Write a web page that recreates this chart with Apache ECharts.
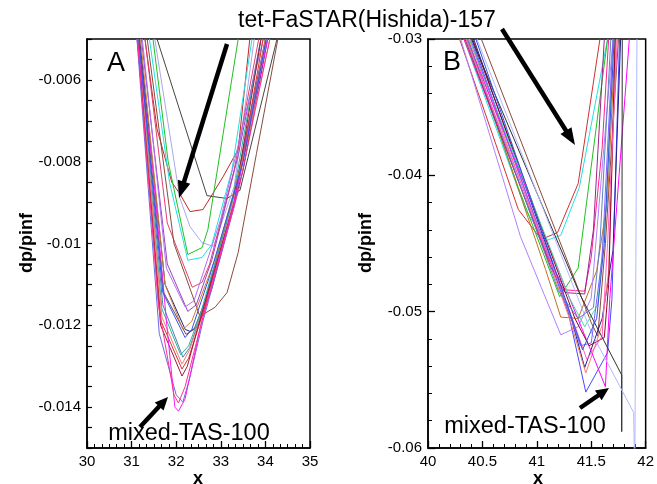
<!DOCTYPE html>
<html><head><meta charset="utf-8">
<script src="https://cdn.jsdelivr.net/npm/echarts@6/dist/echarts.min.js"></script>
<style>html,body{margin:0;padding:0;background:#fff}#c{width:657px;height:484px}</style>
</head><body><div id="c"></div>
<script>
// ---------------- data: panel A ----------------
const yMajorA = [-0.014, -0.012, -0.01, -0.008, -0.006];
const aFaSTAR   = [[31.30,-0.005],[31.57,-0.0072],[31.90,-0.0085],[32.09,-0.0088],[32.31,-0.00922],[32.60,-0.00917],[33.05,-0.00837],[33.39,-0.0077],[33.65,-0.005]];
const aBlack    = [[31.57,-0.005],[32.69,-0.00883],[33.14,-0.0089],[33.43,-0.0087],[34.26,-0.005]];
const aLavender = [[31.52,-0.005],[32.08,-0.00888],[32.31,-0.00959],[32.58,-0.00998],[32.84,-0.01007],[33.3,-0.0086],[33.75,-0.005]];
const aGreen    = [[31.48,-0.005],[31.82,-0.008],[32.26,-0.01027],[32.58,-0.0101],[32.71,-0.00966],[33.39,-0.005]];
const aCyan     = [[31.40,-0.005],[31.85,-0.0085],[32.26,-0.01041],[32.58,-0.01034],[32.80,-0.01002],[33.25,-0.0082],[33.70,-0.005]];
const aPinkRed  = [[31.30,-0.005],[31.80,-0.0095],[32.36,-0.01107],[32.58,-0.01095],[32.75,-0.0105],[33.3,-0.0082],[33.85,-0.005]];
const aBrown    = [[31.35,-0.005],[31.95,-0.0100],[32.53,-0.01178],[32.87,-0.01156],[33.14,-0.0112],[33.39,-0.01022],[33.8,-0.0078],[34.28,-0.005]];
const aPurple   = [[31.22,-0.005],[31.80,-0.0105],[32.26,-0.01166],[32.45,-0.0115],[32.8,-0.0104],[33.4,-0.0078],[33.90,-0.005]];
const aViolet   = [[31.24,-0.005],[31.78,-0.0106],[32.20,-0.01155],[32.40,-0.0114],[33.0,-0.0094],[33.95,-0.005]];
const aNavy     = [[31.18,-0.005],[31.75,-0.0110],[32.20,-0.0121],[32.31,-0.01215],[32.49,-0.01202],[32.8,-0.0111],[33.5,-0.0082],[34.05,-0.005]];
const aDusky    = [[31.17,-0.005],[31.72,-0.0112],[32.22,-0.01222],[32.40,-0.0121],[32.65,-0.0114],[33.3,-0.0088],[34.00,-0.005]];
const aSteel    = [[31.15,-0.005],[31.70,-0.0115],[32.15,-0.01278],[32.30,-0.01255],[32.6,-0.0116],[33.3,-0.0088],[34.02,-0.005]];
const aTeal     = [[31.14,-0.005],[31.68,-0.0116],[32.10,-0.01272],[32.28,-0.0125],[32.55,-0.0117],[33.25,-0.0090],[33.90,-0.005]];
const aSalmon   = [[31.14,-0.005],[31.68,-0.0118],[32.13,-0.01295],[32.30,-0.0126],[32.7,-0.0113],[33.4,-0.0085],[34.10,-0.005]];
const aRed      = [[31.13,-0.005],[31.66,-0.0119],[32.13,-0.01307],[32.28,-0.0128],[32.6,-0.0117],[33.35,-0.0088],[33.95,-0.005]];
const aDarkRed  = [[31.13,-0.005],[31.65,-0.0120],[32.13,-0.01324],[32.25,-0.0130],[32.55,-0.0118],[33.3,-0.0090],[33.90,-0.005]];
const aPeri     = [[31.12,-0.005],[31.62,-0.0122],[32.00,-0.0137],[32.15,-0.01388],[32.30,-0.0133],[32.6,-0.0119],[33.3,-0.0091],[34.00,-0.005]];
const aMagenta  = [[31.12,-0.005],[31.46,-0.008],[31.79,-0.012],[31.97,-0.0140],[32.05,-0.0141],[32.20,-0.0138],[32.55,-0.0120],[33.3,-0.0090],[34.05,-0.005]];
const aHotPink  = [[31.13,-0.005],[31.60,-0.0115],[31.95,-0.0137],[32.05,-0.0139],[32.20,-0.0135],[32.6,-0.0118],[33.4,-0.0087],[34.10,-0.005]];
const aOrange   = [[31.20,-0.005],[31.75,-0.0110],[32.15,-0.0121],[32.35,-0.0119],[32.9,-0.0103],[33.6,-0.0075],[34.00,-0.005]];
const aBlue     = [[31.16,-0.005],[31.70,-0.0112],[32.20,-0.0123],[32.35,-0.0121],[32.75,-0.0108],[33.5,-0.0080],[34.02,-0.005]];

// ---------------- data: panel B ----------------
const bFaSTAR   = [[40.29,-0.03],[40.83,-0.0425],[41.04,-0.0447],[41.19,-0.0442],[41.38,-0.0406],[41.58,-0.03]];
const bCyan     = [[40.33,-0.03],[40.90,-0.0426],[41.08,-0.0448],[41.22,-0.0444],[41.39,-0.0409],[41.65,-0.03]];
const bBrownLn  = [[40.49,-0.03],[41.50,-0.0508],[41.56,-0.0518],[41.63,-0.045],[41.75,-0.03]];
const bGreen    = [[40.35,-0.03],[40.83,-0.0409],[41.21,-0.0489],[41.38,-0.0468],[41.65,-0.03]];
const bOrange   = [[40.37,-0.03],[40.80,-0.0403],[41.08,-0.0469],[41.22,-0.0504],[41.38,-0.0505],[41.55,-0.047],[41.65,-0.0418],[41.72,-0.03]];
const bLilac    = [[40.30,-0.03],[40.85,-0.0445],[41.04,-0.0482],[41.22,-0.0517],[41.38,-0.0511],[41.50,-0.049],[41.70,-0.03]];
const bBlue     = [[40.40,-0.03],[41.29,-0.0501],[41.45,-0.0559],[41.65,-0.0530],[41.69,-0.0491],[41.76,-0.03]];
const bNavy     = [[40.42,-0.03],[41.30,-0.0500],[41.44,-0.0541],[41.60,-0.0505],[41.70,-0.0455],[41.77,-0.03]];
const bSalmon   = [[40.38,-0.03],[41.30,-0.0505],[41.45,-0.0545],[41.60,-0.0510],[41.66,-0.0470],[41.73,-0.03]];
const bMagenta  = [[40.36,-0.03],[41.30,-0.0490],[41.54,-0.0537],[41.63,-0.0555],[41.67,-0.0491],[41.85,-0.03]];
const bHotPink  = [[40.33,-0.03],[41.10,-0.0460],[41.26,-0.0484],[41.44,-0.0485],[41.50,-0.0460],[41.60,-0.0380],[41.66,-0.03]];
const bPurple   = [[40.34,-0.03],[41.12,-0.0466],[41.26,-0.0486],[41.44,-0.0487],[41.52,-0.0440],[41.62,-0.03]];
const bDarkRed  = [[40.41,-0.03],[41.35,-0.0505],[41.48,-0.0525],[41.62,-0.0519],[41.66,-0.0480],[41.72,-0.03]];
const bAqua     = [[40.38,-0.03],[41.30,-0.0490],[41.44,-0.0511],[41.56,-0.0495],[41.64,-0.0420],[41.70,-0.03]];
const bBlack    = [[40.40,-0.03],[41.40,-0.0488],[41.78,-0.05465],[41.78,-0.0588],[41.785,-0.03]];
const bPaleBlue = [[40.45,-0.03],[41.50,-0.0515],[41.89,-0.0574],[41.90,-0.0625],[41.92,-0.03]];
const bViolet   = [[40.39,-0.03],[41.25,-0.0490],[41.40,-0.0525],[41.50,-0.0523],[41.60,-0.0460],[41.70,-0.03]];
const bSlate    = [[40.36,-0.03],[41.20,-0.0485],[41.38,-0.0505],[41.52,-0.0497],[41.58,-0.0450],[41.68,-0.03]];
const bPink     = [[40.35,-0.03],[41.28,-0.0495],[41.46,-0.0535],[41.60,-0.0518],[41.65,-0.0450],[41.74,-0.03]];
const bBlue2    = [[40.44,-0.03],[41.25,-0.0488],[41.42,-0.0528],[41.55,-0.0505],[41.62,-0.0450],[41.71,-0.03]];

// ---------------- styles (kept apart from data) ----------------
const curvesA = [
  [aFaSTAR,'#c0282c'],[aBlack,'#454545'],[aLavender,'#a8a8ee'],[aGreen,'#20c020'],[aCyan,'#20e0e8'],
  [aPinkRed,'#e04070'],[aBrown,'#8a4a3a'],[aPurple,'#9a40c8'],[aViolet,'#b070f0'],[aNavy,'#202080'],
  [aDusky,'#6a4a5a'],[aSteel,'#4a80b8'],[aTeal,'#30b0a0'],[aSalmon,'#f08070'],[aRed,'#e03030'],
  [aDarkRed,'#a01838'],[aPeri,'#6a6ae8'],[aMagenta,'#f020f0'],[aHotPink,'#ff3090'],[aOrange,'#d08030'],[aBlue,'#3050f0']
];
const curvesB = [
  [bFaSTAR,'#d03030'],[bCyan,'#20e0e8'],[bBrownLn,'#8a4a3a'],[bGreen,'#20c020'],[bOrange,'#c07020'],
  [bLilac,'#b080ff'],[bBlue,'#4848ff'],[bNavy,'#202090'],[bSalmon,'#ff7868'],[bMagenta,'#ff00ff'],
  [bHotPink,'#ff2090'],[bPurple,'#a02090'],[bDarkRed,'#900030'],[bAqua,'#40e0a0'],[bBlack,'#303030'],
  [bPaleBlue,'#b0b8ff'],[bViolet,'#8060ff'],[bSlate,'#6080c0'],[bPink,'#ff60c0'],[bBlue2,'#3050e0']
];

const FONT = 'Liberation Sans, Arial, sans-serif';
const chart = echarts.init(document.getElementById('c'));

function tick(len, w){ return {show:true, inside:true, length:len, lineStyle:{color:'#000', width:w}}; }
function minor(n){ return {show:true, splitNumber:n, length:4, lineStyle:{color:'#000', width:1}}; }
function axisBase(extra){
  return Object.assign({
    type:'value', splitLine:{show:false},
    axisLine:{show:true, lineStyle:{color:'#000', width:1.5}},
    axisTick:tick(7,1.3),
    minorTick:minor(5),
    axisLabel:{color:'#000', fontFamily:FONT, fontSize:15, margin:6}
  }, extra);
}

const series = [];
curvesA.forEach(([d,c]) => series.push({type:'line', xAxisIndex:0, yAxisIndex:0, data:d, symbol:'none',
  lineStyle:{color:c, width:1}, clip:true, silent:true}));
curvesB.forEach(([d,c]) => series.push({type:'line', xAxisIndex:1, yAxisIndex:1, data:d, symbol:'none',
  lineStyle:{color:c, width:1}, clip:true, silent:true}));

function arrow(x1,y1,x2,y2,w,hl,hw){
  const dx=x2-x1, dy=y2-y1, L=Math.hypot(dx,dy), ux=dx/L, uy=dy/L;
  const bx=x2-ux*hl, by=y2-uy*hl, nx=-uy, ny=ux;
  return [
    {type:'line', shape:{x1:x1,y1:y1,x2:bx+ux*2,y2:by+uy*2}, style:{stroke:'#000', lineWidth:w}, z:100},
    {type:'polygon', shape:{points:[[x2,y2],[bx+nx*hw/2,by+ny*hw/2],[bx-nx*hw/2,by-ny*hw/2]]}, style:{fill:'#000'}, z:100}
  ];
}
function txt(x,y,t,size,bold,rot){
  return {type:'text', x:x, y:y, rotation:rot||0, z:100,
    style:{text:t, font:(bold?'bold ':'')+size+'px '+FONT, fill:'#000',
      textAlign:'center', textVerticalAlign:'middle', align:'center', verticalAlign:'middle'}};
}

const option = {
  animation:false,
  backgroundColor:'#fff',
  grid:[
    {left:87, right:347, top:39, bottom:36, show:true, borderColor:'#000', borderWidth:1.5, backgroundColor:'transparent'},
    {left:428, right:8, top:39, bottom:36, show:true, borderColor:'#000', borderWidth:1.5, backgroundColor:'transparent'}
  ],
  xAxis:[
    axisBase({gridIndex:0, min:30, max:35, interval:1, minorTick:minor(6)}),
    axisBase({gridIndex:1, min:40, max:42, interval:0.5, minorTick:minor(5)})
  ],
  yAxis:[
    axisBase({gridIndex:0, min:-0.015, max:-0.005, interval:0.0005,
      axisTick:tick(5,1.2), minorTick:{show:false},
      axisLabel:{color:'#000', fontFamily:FONT, fontSize:15, margin:6, customValues:yMajorA}}),
    axisBase({gridIndex:1, min:-0.06, max:-0.03, interval:0.01, minorTick:minor(5)})
  ],
  series: series,
  graphic:[
    txt(116,64,'A',27,false), txt(452,63,'B',27,false),
    txt(367,21,'tet-FaSTAR(Hishida)-157',23,false),
    txt(189,434,'mixed-TAS-100',23.5,false),
    txt(525,427,'mixed-TAS-100',23.5,false),
    txt(27,243,'dp/pinf',18,true,Math.PI/2),
    txt(366,243,'dp/pinf',18,true,Math.PI/2),
    txt(198,479,'x',18,true), txt(538,479,'x',18,true),
    ...arrow(227,44,179,198,4.5,17,13),
    ...arrow(502,29,575,145,4.5,17,13),
    ...arrow(140,427,168,397,4.5,13,12),
    ...arrow(580,408,609,388,4.5,13,12)
  ]
};
chart.setOption(option);
</script></body></html>
